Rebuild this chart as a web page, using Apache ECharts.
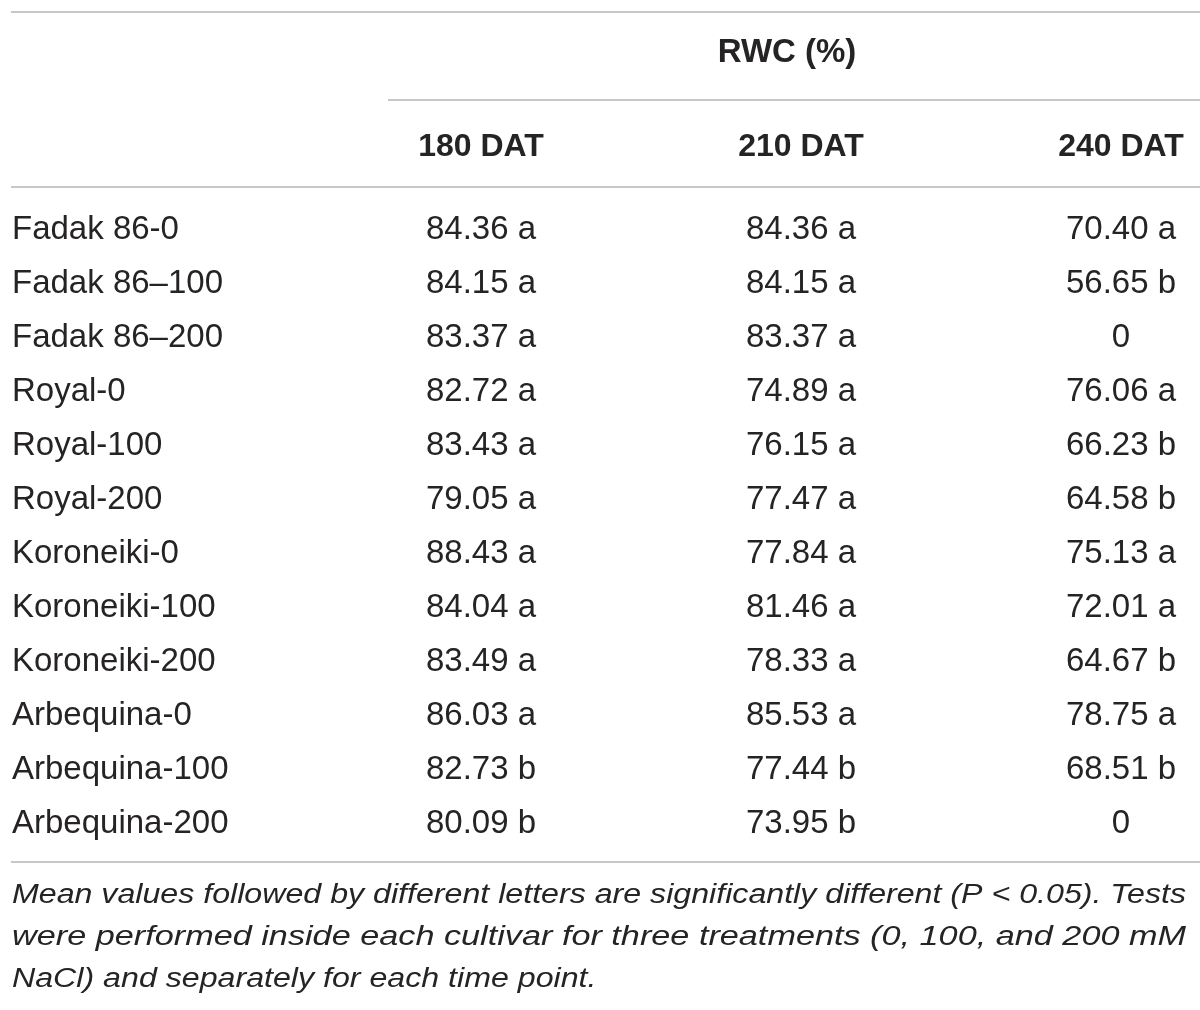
<!DOCTYPE html>
<html>
<head>
<meta charset="utf-8">
<script src="https://cdn.jsdelivr.net/npm/echarts@6/dist/echarts.min.js"></script>
<style>
  html, body { margin: 0; padding: 0; background: #fff; }
  #main { width: 1200px; height: 1010px; }
</style>
</head>
<body>
<div id="main"></div>
<script>
// row names (cultivar-treatment)
let rowNames = ['Fadak 86-0', 'Fadak 86\u2013100', 'Fadak 86\u2013200', 'Royal-0', 'Royal-100', 'Royal-200',
    'Koroneiki-0', 'Koroneiki-100', 'Koroneiki-200', 'Arbequina-0', 'Arbequina-100', 'Arbequina-200'];
let colNames = ['180 DAT', '210 DAT', '240 DAT'];

// RWC values and significance letters for each time point
let rwc180 = [84.36, 84.15, 83.37, 82.72, 83.43, 79.05, 88.43, 84.04, 83.49, 86.03, 82.73, 80.09];
let sig180 = ['a', 'a', 'a', 'a', 'a', 'a', 'a', 'a', 'a', 'a', 'b', 'b'];
let rwc210 = [84.36, 84.15, 83.37, 74.89, 76.15, 77.47, 77.84, 81.46, 78.33, 85.53, 77.44, 73.95];
let sig210 = ['a', 'a', 'a', 'a', 'a', 'a', 'a', 'a', 'a', 'a', 'b', 'b'];
let rwc240 = [70.40, 56.65, 0, 76.06, 66.23, 64.58, 75.13, 72.01, 64.67, 78.75, 68.51, 0];
let sig240 = ['a', 'b', '', 'a', 'b', 'b', 'a', 'a', 'b', 'a', 'b', ''];

let footLines = [
    'Mean values followed by different letters are significantly different (P < 0.05). Tests',
    'were performed inside each cultivar for three treatments (0, 100, and 200 mM',
    'NaCl) and separately for each time point.'
];

const FONT = '"Liberation Sans", Arial, sans-serif';
const INK = '#262324';
const RULE = '#c8c8c8';

let myChart = echarts.init(document.getElementById('main'), null, {renderer: 'canvas'});

function cellSeries(col, values, letters) {
    let pts = [];
    for (let i = 0; i < values.length; i++) {
        let txt = values[i] === 0 ? '0' : values[i].toFixed(2) + ' ' + letters[i];
        pts.push({value: [col, rowNames[i]], txt: txt});
    }
    return {
        type: 'scatter',
        symbolSize: 0,
        silent: true,
        itemStyle: {opacity: 1},
        data: pts,
        label: {
            show: true,
            position: 'inside',
            formatter: function (p) { return p.data.txt; },
            fontFamily: FONT,
            fontSize: 33,
            color: INK,
            opacity: 1
        }
    };
}

function hline(x1, x2, y) {
    return {
        type: 'line',
        shape: {x1: x1, y1: y, x2: x2, y2: y},
        style: {stroke: RULE, lineWidth: 2}
    };
}

// footnote is justified in the source: stretch each full line to the block width
let footFont = 'italic 27px ' + FONT;
let ctx = document.createElement('canvas').getContext('2d');
ctx.font = footFont;
let blockW = 1174;
let naturalScale = blockW / ctx.measureText(footLines[0]).width;

let graphics = [
    hline(11, 1200, 12),
    hline(388, 1200, 100),
    hline(11, 1200, 187),
    hline(11, 1200, 862),
    {
        type: 'text',
        x: 787, y: 53,
        style: {text: 'RWC (%)', font: 'bold 33px ' + FONT, fill: INK, textAlign: 'center', textVerticalAlign: 'middle'}
    }
];
for (let i = 0; i < footLines.length; i++) {
    let last = i === footLines.length - 1;
    let sx = last ? naturalScale : blockW / ctx.measureText(footLines[i]).width;
    graphics.push({
        type: 'text',
        x: 12, y: 895 + i * 42,
        scaleX: sx,
        style: {text: footLines[i], font: footFont, fill: INK, textAlign: 'left', textVerticalAlign: 'middle'}
    });
}

let option = {
    animation: false,
    backgroundColor: '#fff',
    grid: {left: 161, width: 960, top: 203, height: 648, containLabel: false},
    xAxis: {
        type: 'value',
        position: 'top',
        min: 0, max: 3, interval: 1,
        axisLine: {show: false},
        axisTick: {show: false},
        splitLine: {show: false},
        axisLabel: {
            margin: 56,
            verticalAlign: 'middle',
            fontFamily: FONT,
            fontSize: 32,
            fontWeight: 'bold',
            color: INK,
            formatter: function (v) { return v >= 1 ? colNames[v - 1] : ''; }
        }
    },
    yAxis: {
        type: 'category',
        inverse: true,
        data: rowNames,
        axisLine: {show: false},
        axisTick: {show: false},
        splitLine: {show: false},
        axisLabel: {
            align: 'left',
            margin: 149,
            fontFamily: FONT,
            fontSize: 33,
            color: INK
        }
    },
    graphic: graphics,
    series: [
        cellSeries(1, rwc180, sig180),
        cellSeries(2, rwc210, sig210),
        cellSeries(3, rwc240, sig240)
    ]
};
myChart.setOption(option);
</script>
</body>
</html>
